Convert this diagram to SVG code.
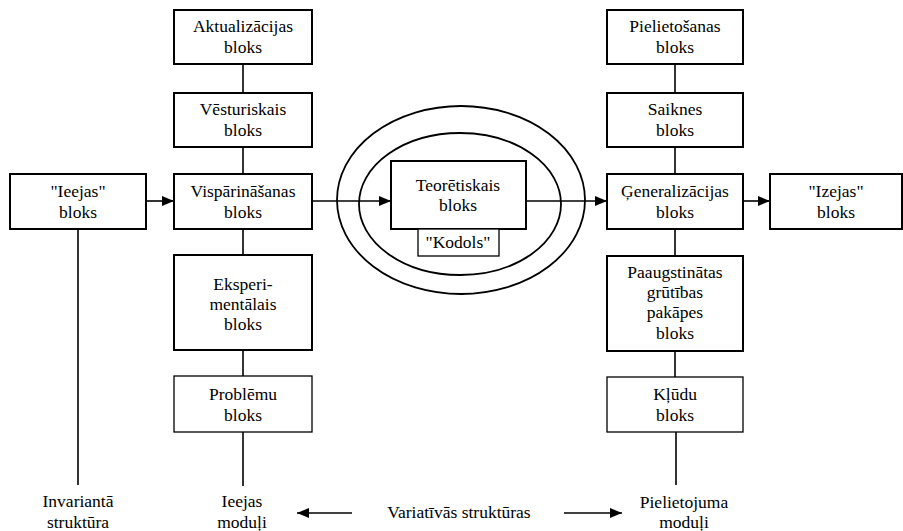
<svg xmlns="http://www.w3.org/2000/svg" width="903" height="531" viewBox="0 0 903 531">
<style>
text{font-family:'Liberation Serif','Times New Roman','DejaVu Serif',serif;font-size:17.5px;fill:#000;text-anchor:middle}
.box{fill:#fff;stroke:#000;stroke-width:2}
.thin{fill:#fff;stroke:#000;stroke-width:1.3}
.ln{stroke:#000;stroke-width:1.6;fill:none}
</style>
<defs>
<marker id="ah" viewBox="0 0 12 10" refX="12" refY="5" markerWidth="12" markerHeight="10" markerUnits="userSpaceOnUse" orient="auto">
<path d="M0,0 L12,5 L0,10 Z" fill="#000"/>
</marker>
</defs>
<rect width="903" height="531" fill="#fff"/>
<g id="connectors">
<line class="ln" x1="146" y1="201" x2="174" y2="201" marker-end="url(#ah)"/>
<line class="ln" x1="312" y1="201" x2="391" y2="201" marker-end="url(#ah)"/>
<line class="ln" x1="526" y1="201" x2="607" y2="201" marker-end="url(#ah)"/>
<line class="ln" x1="742" y1="201" x2="770" y2="201" marker-end="url(#ah)"/>
<line class="ln" x1="243" y1="64" x2="243" y2="93"/>
<line class="ln" x1="243" y1="147" x2="243" y2="174"/>
<line class="ln" x1="243" y1="229" x2="243" y2="255"/>
<line class="ln" x1="243" y1="350" x2="243" y2="376"/>
<line class="ln" x1="243" y1="432" x2="243" y2="486"/>
<line class="ln" x1="675" y1="64" x2="675" y2="93"/>
<line class="ln" x1="675" y1="147" x2="675" y2="174"/>
<line class="ln" x1="675" y1="229" x2="675" y2="256"/>
<line class="ln" x1="675" y1="351" x2="675" y2="377"/>
<line class="ln" x1="676" y1="432" x2="676" y2="485"/>
<line class="ln" x1="78" y1="229" x2="78" y2="485"/>
<line class="ln" x1="352" y1="513" x2="297" y2="513" marker-end="url(#ah)"/>
<line class="ln" x1="564" y1="513" x2="622" y2="513" marker-end="url(#ah)"/>
</g>
<g id="core">
<ellipse cx="461" cy="200" rx="124" ry="94" fill="none" stroke="#000" stroke-width="1.8"/>
<ellipse cx="460" cy="204" rx="101" ry="71" fill="none" stroke="#000" stroke-width="1.8"/>
</g>
<g id="aktualizacijas"><rect class="box" x="174" y="10" width="138" height="54"/><text x="243" y="32">Aktualizācijas</text><text x="243" y="53">bloks</text></g>
<g id="vesturiskais"><rect class="box" x="174" y="93" width="138" height="54"/><text x="243" y="115">Vēsturiskais</text><text x="243" y="136">bloks</text></g>
<g id="visparinasanas"><rect class="box" x="174" y="174" width="138" height="55"/><text x="243" y="197">Vispārināšanas</text><text x="243" y="218">bloks</text></g>
<g id="ieejas"><rect class="box" x="10" y="174" width="136" height="55"/><text x="78" y="197">"Ieejas"</text><text x="78" y="218">bloks</text></g>
<g id="eksperimentalais"><rect class="box" x="174" y="255" width="138" height="95"/><text x="243" y="290">Eksperi-</text><text x="243" y="310">mentālais</text><text x="243" y="330">bloks</text></g>
<g id="problemu"><rect class="thin" x="174" y="376" width="138" height="56"/><text x="243" y="400">Problēmu</text><text x="243" y="421">bloks</text></g>
<g id="teoretiskais"><rect class="box" x="391" y="161" width="135" height="68"/><text x="458" y="191">Teorētiskais</text><text x="458" y="211">bloks</text></g>
<g id="kodols"><rect class="thin" x="418" y="229" width="81" height="27"/><text x="458" y="248">"Kodols"</text></g>
<g id="pielietosanas"><rect class="box" x="607" y="10" width="136" height="54"/><text x="675" y="32">Pielietošanas</text><text x="675" y="53">bloks</text></g>
<g id="saiknes"><rect class="box" x="607" y="93" width="136" height="54"/><text x="675" y="115">Saiknes</text><text x="675" y="136">bloks</text></g>
<g id="generalizacijas"><rect class="box" x="607" y="174" width="136" height="55"/><text x="675" y="197">Ģeneralizācijas</text><text x="675" y="218">bloks</text></g>
<g id="izejas"><rect class="box" x="770" y="174" width="132" height="55"/><text x="836" y="197">"Izejas"</text><text x="836" y="218">bloks</text></g>
<g id="paaugstinatas"><rect class="box" x="607" y="256" width="136" height="95"/><text x="675" y="278">Paaugstinātas</text><text x="675" y="298">grūtības</text><text x="675" y="318">pakāpes</text><text x="675" y="339">bloks</text></g>
<g id="kludu"><rect class="thin" x="607" y="377" width="136" height="55"/><text x="675" y="400">Kļūdu</text><text x="675" y="421">bloks</text></g>
<g id="labels">
<text x="78" y="507">Invariantā</text><text x="78" y="528">struktūra</text>
<text x="242" y="507">Ieejas</text><text x="242" y="528">moduļi</text>
<text x="459" y="518">Variatīvās struktūras</text>
<text x="684" y="508">Pielietojuma</text><text x="684" y="528">moduļi</text>
</g>
</svg>
